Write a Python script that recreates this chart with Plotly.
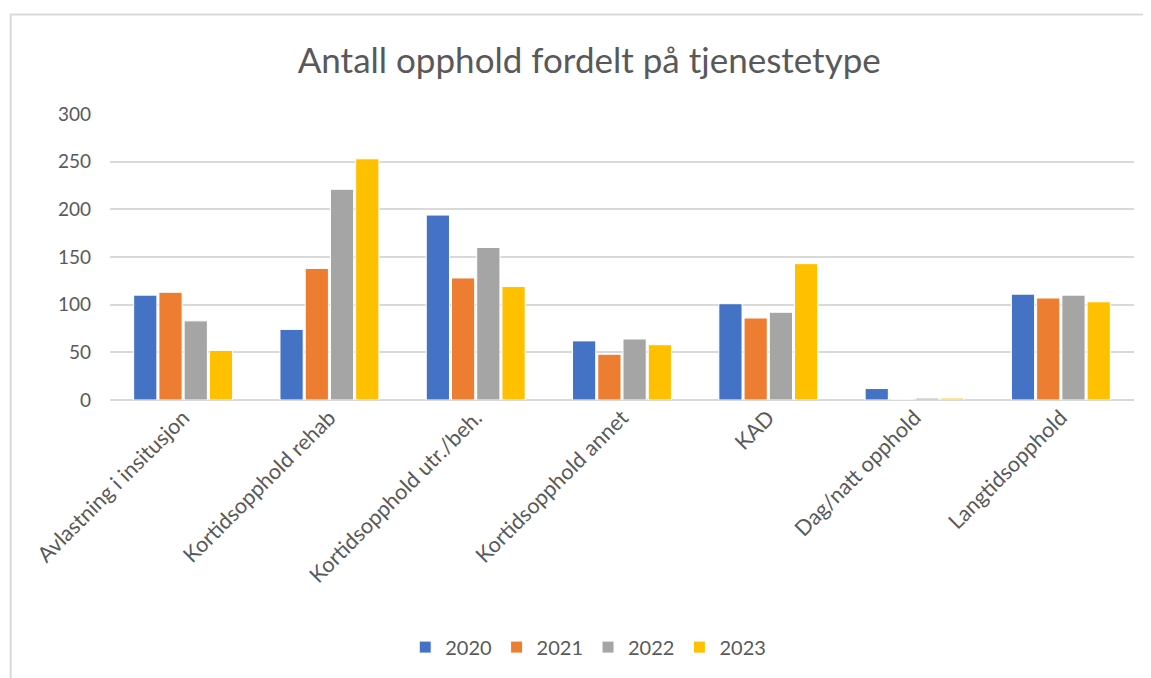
import plotly.graph_objects as go

categories = [
    "Avlastning i insitusjon", "Kortidsopphold rehab", "Kortidsopphold utr./beh.",
    "Kortidsopphold annet", "KAD", "Dag/natt opphold", "Langtidsopphold",
]
years = ["2020", "2021", "2022", "2023"]
v2020 = [110, 74, 194, 62, 101, 12, 111]
v2021 = [113, 138, 128, 48, 86, 0, 107]
v2022 = [83, 221, 160, 64, 92, 2, 110]
v2023 = [52, 253, 119, 58, 143, 2, 103]
colors = ["#4472C4", "#ED7D31", "#A5A5A5", "#FFC000"]

font = "Lato, 'Open Sans', sans-serif"
grey = "#595959"

fig = go.Figure()
for name, vals, col in zip(years, [v2020, v2021, v2022, v2023], colors):
    fig.add_trace(go.Bar(
        x=categories, y=vals, name=name,
        marker=dict(color=col, line=dict(color="white", width=1)),
    ))

fig.update_layout(
    width=1151, height=678,
    paper_bgcolor="white", plot_bgcolor="white",
    barmode="group", bargap=0.31, bargroupgap=0.08,
    margin=dict(l=102, r=25, t=106, b=286),
    title=dict(text="Antall opphold fordelt på tjenestetype", x=0.505, xanchor="center",
               y=0.922, yref="container", yanchor="middle",
               font=dict(family=font, size=35, color=grey)),
    font=dict(family=font, size=16, color=grey),
    legend=dict(orientation="h", x=0.467, xanchor="center", y=-0.864, yanchor="middle",
                font=dict(size=20, color=grey), itemwidth=30),
    showlegend=True,
    shapes=[dict(type="path", xref="paper", yref="paper",
                 path="M -0.097,-1.3 L -0.097,1.348 L 1.3,1.348",
                 line=dict(color="#d9d9d9", width=2), layer="below")],
)
fig.update_xaxes(tickangle=-45, showgrid=False, showline=False, ticks="",
                 tickfont=dict(size=21.5, color=grey))
fig.update_yaxes(range=[0, 300], dtick=50, showgrid=True, gridcolor="#d9d9d9", gridwidth=1.5,
                 zeroline=True, zerolinecolor="#d9d9d9", zerolinewidth=1.5,
                 ticklabelstandoff=18, tickfont=dict(size=19, color=grey))

fig.write_html("out.html")
